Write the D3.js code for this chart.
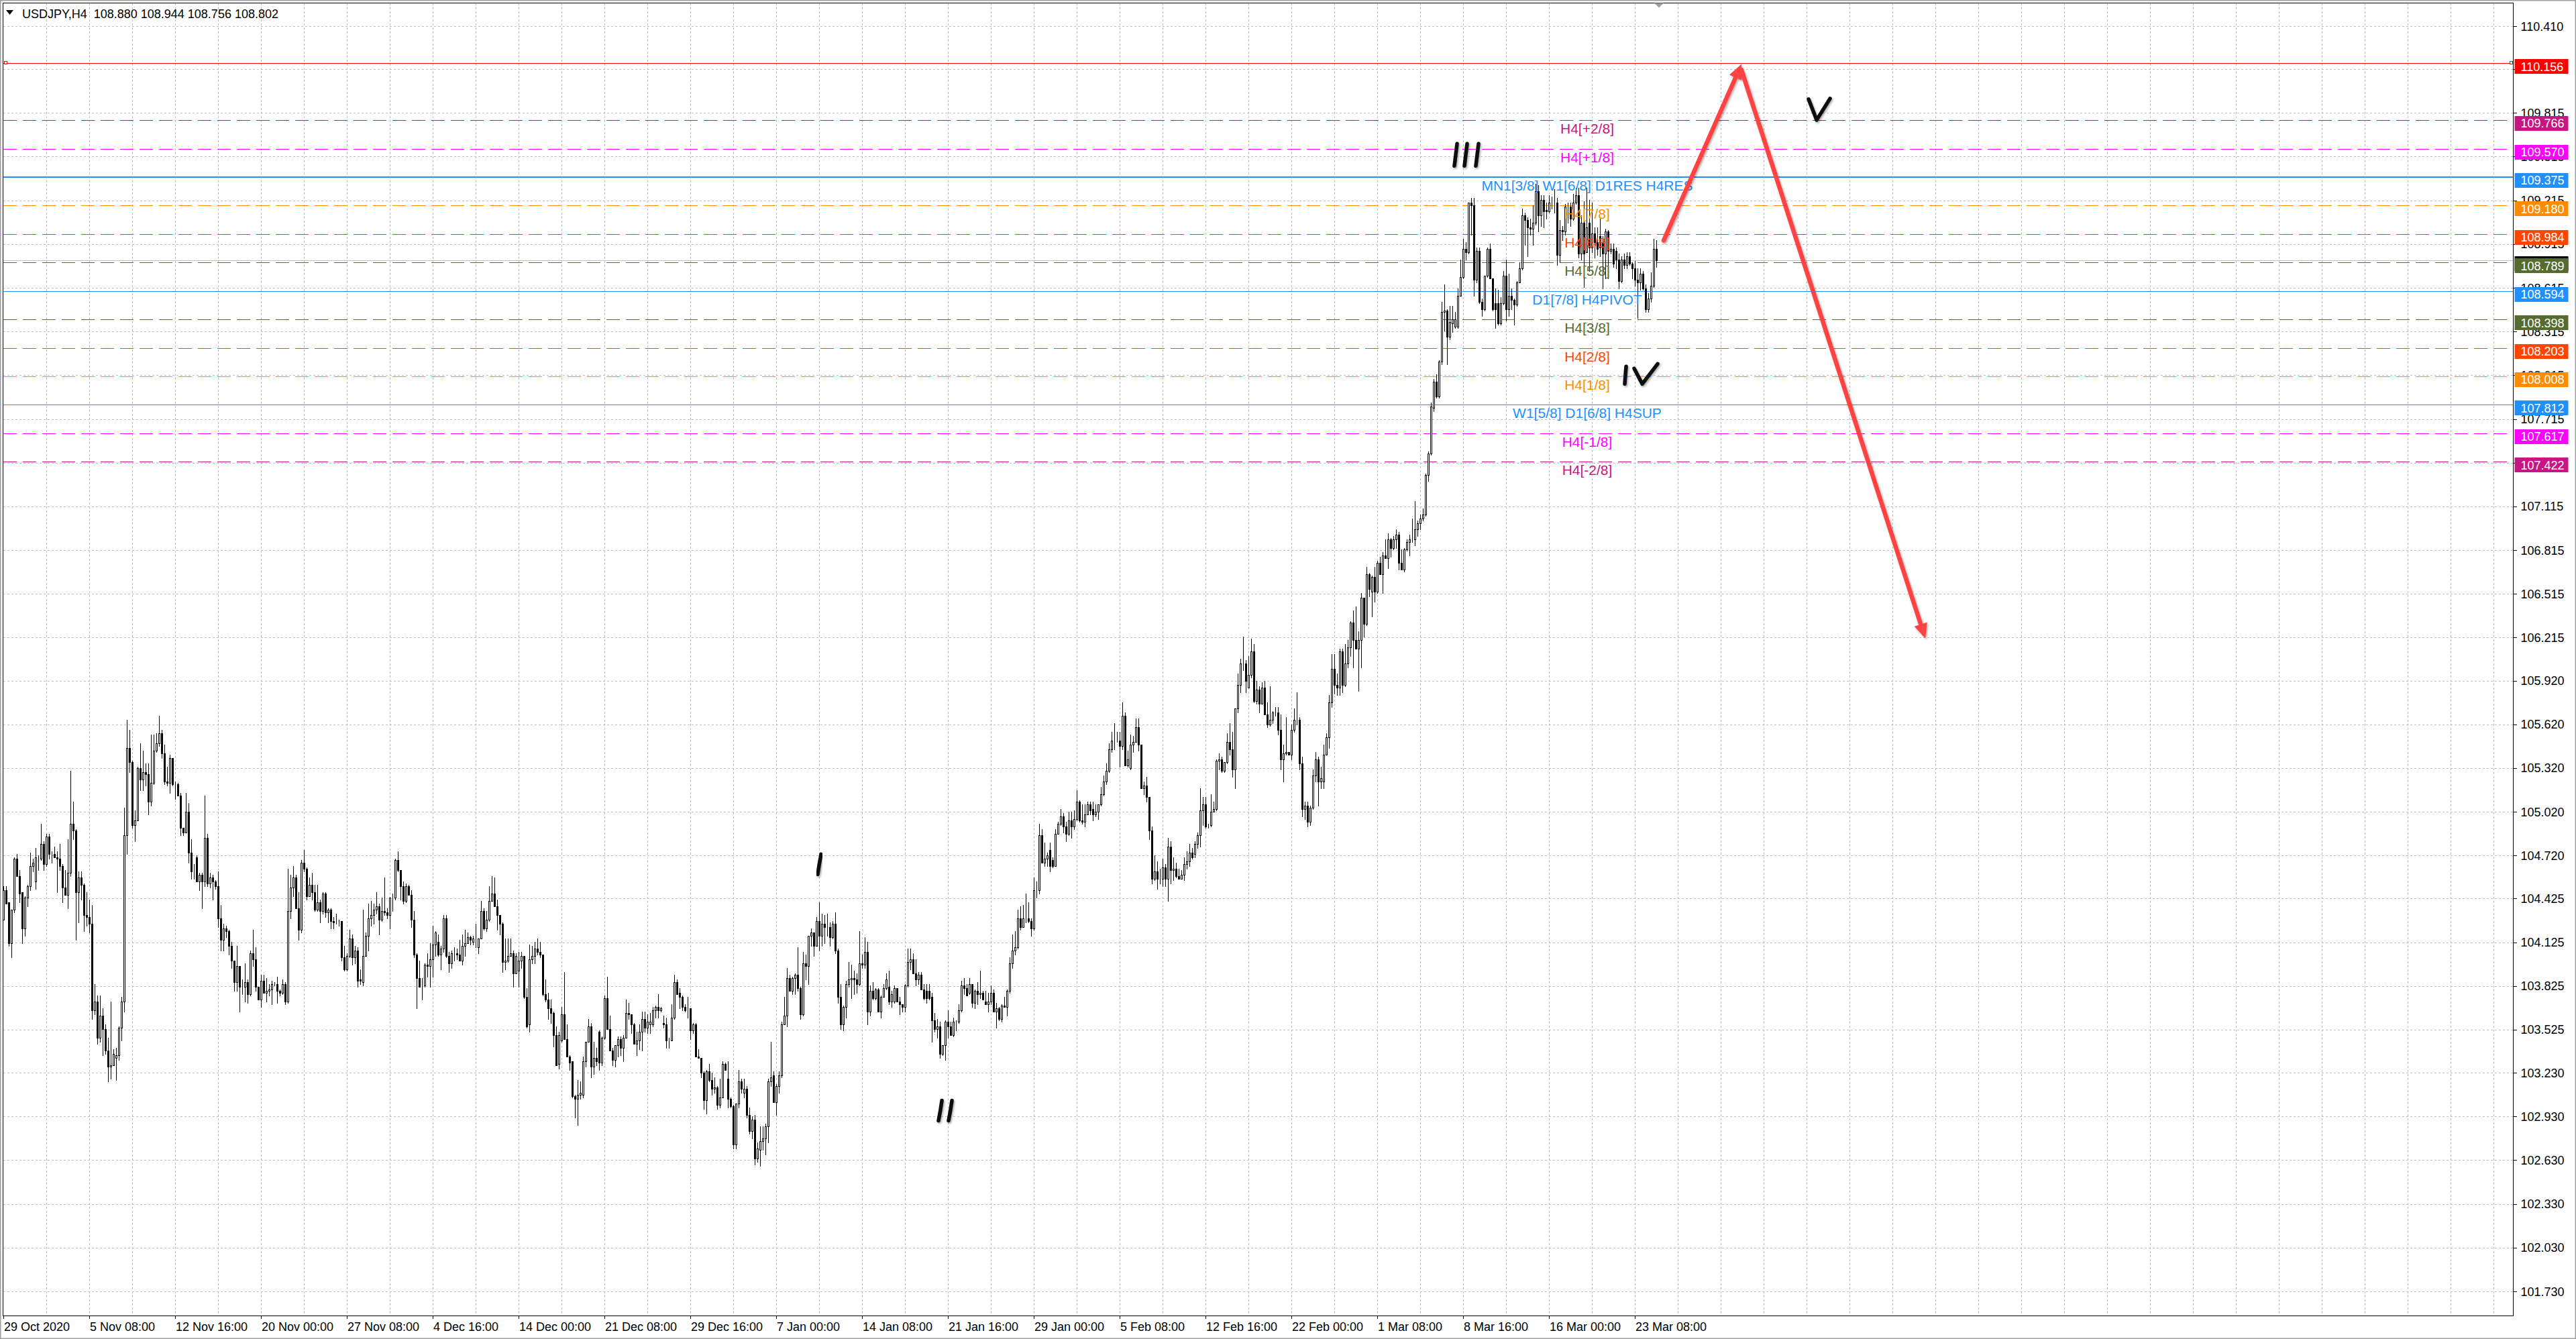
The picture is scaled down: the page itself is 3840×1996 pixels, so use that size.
<!DOCTYPE html>
<html>
<head>
<meta charset="utf-8">
<script src="https://cdn.jsdelivr.net/npm/d3@7"></script>
<style>
body { margin: 0; background: #fff; }
svg { display: block; }
text { font-family: "Liberation Sans", Arial, sans-serif; }
</style>
</head>
<body>
<div id="chart"></div>
<script>
var W = 3840, H = 1996;

var title = "USDJPY,H4  108.880 108.944 108.756 108.802";

// H4 bars, [open, high, low, close], oldest first
var bars = [
[104.28,104.51,104.28,104.48],[104.48,104.51,104.39,104.39],[104.40,104.40,104.10,104.12],[104.12,104.35,104.02,104.35],
[104.35,104.71,104.33,104.70],[104.70,104.73,104.58,104.58],[104.58,104.62,104.40,104.46],[104.47,104.47,104.12,104.22],
[104.22,104.44,104.17,104.43],[104.43,104.52,104.37,104.51],[104.51,104.74,104.48,104.65],[104.65,104.70,104.61,104.67],
[104.54,104.77,104.49,104.71],[104.70,104.72,104.62,104.70],[104.70,104.94,104.69,104.80],[104.80,104.82,104.62,104.66],
[104.66,104.87,104.65,104.85],[104.85,104.87,104.70,104.73],[104.73,104.75,104.67,104.73],[104.73,104.78,104.71,104.71],
[104.71,104.75,104.47,104.70],[104.70,104.80,104.62,104.65],[104.65,104.66,104.40,104.50],[104.50,104.62,104.45,104.45],
[104.45,104.83,104.36,104.60],[104.60,105.30,104.58,104.94],[104.94,105.09,104.83,104.89],[104.89,104.90,104.14,104.47],
[104.47,104.61,104.26,104.57],[104.57,104.61,104.42,104.52],[104.52,104.53,104.20,104.31],[104.31,104.47,104.24,104.30],
[104.30,104.42,104.19,104.25],[104.25,104.38,103.60,103.66],[103.66,103.84,103.63,103.72],[103.72,103.76,103.43,103.47],
[103.47,103.76,103.44,103.62],[103.62,103.67,103.35,103.53],[103.53,103.56,103.36,103.38],[103.38,103.47,103.17,103.27],
[103.27,103.72,103.19,103.28],[103.28,103.39,103.28,103.36],[103.33,103.40,103.18,103.35],[103.35,103.55,103.32,103.54],
[103.54,103.75,103.45,103.72],[103.72,105.05,103.65,104.86],[104.86,105.65,104.73,105.46],[105.46,105.58,105.29,105.36],
[105.36,105.37,104.91,104.93],[104.93,105.03,104.82,104.96],[104.96,105.33,104.96,105.32],[105.32,105.49,105.17,105.24],
[105.24,105.44,105.17,105.29],[105.29,105.35,105.20,105.28],[105.28,105.35,105.00,105.09],[105.09,105.55,105.06,105.22],
[105.22,105.55,105.21,105.44],[105.44,105.56,105.43,105.49],[105.49,105.68,105.47,105.56],[105.56,105.58,105.39,105.42],
[105.42,105.48,105.21,105.23],[105.23,105.33,105.20,105.22],[105.22,105.41,105.15,105.39],[105.39,105.39,105.20,105.21],
[105.21,105.23,105.11,105.21],[105.21,105.22,105.13,105.13],[105.13,105.15,104.86,104.91],[104.91,104.91,104.86,104.88],
[104.88,105.15,104.88,105.02],[105.02,105.08,104.67,104.74],[104.74,104.83,104.56,104.61],[104.61,104.66,104.56,104.61],
[104.71,104.72,104.54,104.54],[104.54,104.60,104.48,104.59],[104.59,104.60,104.36,104.54],[104.54,105.13,104.51,104.84],
[104.84,104.87,104.51,104.53],[104.53,104.60,104.50,104.57],[104.57,104.59,104.42,104.54],[104.54,104.55,104.49,104.51],
[104.51,104.61,104.23,104.29],[104.29,104.38,104.07,104.14],[104.14,104.25,104.07,104.22],[104.22,104.24,104.16,104.20],
[104.20,104.21,104.04,104.10],[104.10,104.13,103.95,104.00],[104.00,104.00,103.79,103.85],[103.85,104.10,103.79,103.96],
[103.96,103.96,103.65,103.82],[103.82,103.87,103.77,103.82],[103.82,103.98,103.72,103.85],[103.85,103.87,103.71,103.77],
[103.77,104.07,103.76,104.05],[104.05,104.21,103.96,104.01],[104.01,104.09,103.79,103.82],[103.82,103.82,103.73,103.73],
[103.73,103.90,103.68,103.86],[103.86,103.90,103.78,103.78],[103.78,103.88,103.72,103.79],[103.79,103.84,103.76,103.80],
[103.80,103.86,103.70,103.84],[103.84,103.85,103.83,103.84],[103.84,103.89,103.71,103.79],[103.79,103.80,103.76,103.78],
[103.78,103.87,103.77,103.84],[103.84,103.85,103.70,103.72],[103.72,104.63,103.71,104.34],[104.34,104.59,104.29,104.50],
[104.50,104.65,104.44,104.57],[104.57,104.59,104.36,104.36],[104.36,104.47,104.14,104.21],[104.21,104.69,104.19,104.67],
[104.67,104.76,104.61,104.63],[104.63,104.64,104.42,104.44],[104.44,104.57,104.44,104.52],[104.52,104.60,104.42,104.47],
[104.47,104.52,104.34,104.35],[104.35,104.52,104.34,104.40],[104.40,104.42,104.26,104.34],[104.34,104.47,104.32,104.46],
[104.46,104.47,104.30,104.33],[104.33,104.36,104.26,104.35],[104.35,104.36,104.22,104.27],[104.27,104.30,104.22,104.26],
[104.26,104.32,104.25,104.26],[104.26,104.28,104.24,104.26],[104.27,104.27,104.00,104.02],[104.02,104.10,103.93,103.94],
[103.94,104.05,103.93,104.03],[104.03,104.21,104.02,104.15],[104.15,104.18,103.97,104.02],[104.02,104.10,103.98,104.07],
[104.07,104.09,103.82,103.86],[103.87,103.94,103.84,103.86],[103.85,104.35,103.83,104.03],[104.03,104.19,104.03,104.17],
[104.17,104.39,104.07,104.29],[104.29,104.41,104.24,104.31],[104.31,104.39,104.25,104.35],[104.35,104.47,104.32,104.37],
[104.37,104.39,104.18,104.28],[104.28,104.43,104.27,104.34],[104.34,104.57,104.31,104.33],[104.33,104.36,104.29,104.31],
[104.31,104.43,104.22,104.43],[104.43,104.46,104.34,104.43],[104.43,104.70,104.42,104.69],[104.69,104.75,104.61,104.62],
[104.62,104.62,104.42,104.51],[104.51,104.54,104.39,104.41],[104.41,104.53,104.40,104.51],[104.51,104.52,104.45,104.45],
[104.45,104.48,104.23,104.28],[104.28,104.34,104.02,104.04],[104.04,104.05,103.67,103.88],[103.88,104.00,103.82,103.82],
[103.83,103.88,103.73,103.83],[103.83,103.98,103.82,103.97],[103.97,104.05,103.89,103.96],[103.96,104.12,103.82,104.01],
[104.01,104.24,103.89,104.11],[104.11,104.20,104.03,104.19],[104.13,104.18,104.03,104.04],[104.04,104.10,103.94,104.08],
[104.08,104.31,104.06,104.29],[104.29,104.31,104.02,104.03],[104.03,104.06,103.92,103.98],[103.98,104.07,103.95,104.05],
[104.05,104.09,104.00,104.05],[104.05,104.08,104.01,104.04],[104.04,104.14,104.00,104.00],[104.00,104.18,103.97,104.10],
[104.10,104.21,104.03,104.12],[104.12,104.19,104.12,104.16],[104.16,104.17,104.11,104.14],[104.13,104.17,104.11,104.15],
[104.15,104.25,104.09,104.15],[104.09,104.15,104.05,104.15],[104.15,104.41,104.15,104.34],[104.34,104.36,104.21,104.22],
[104.22,104.34,104.20,104.28],[104.28,104.51,104.27,104.41],[104.41,104.58,104.41,104.46],[104.46,104.57,104.37,104.37],
[104.37,104.42,104.21,104.31],[104.31,104.31,104.18,104.25],[104.25,104.26,103.92,103.99],[103.99,104.15,103.94,104.00],
[104.00,104.15,103.99,104.03],[104.03,104.15,104.03,104.05],[104.05,104.07,103.82,103.91],[103.91,104.05,103.91,104.03],
[103.93,104.06,103.82,104.00],[104.00,104.06,103.95,104.03],[104.03,104.03,103.74,103.75],[103.75,103.81,103.54,103.55],
[103.56,104.11,103.51,104.01],[104.01,104.10,103.98,104.03],[104.03,104.13,103.98,104.08],[104.08,104.15,104.04,104.06],
[104.06,104.13,104.02,104.04],[104.04,104.04,103.76,103.77],[103.77,103.87,103.72,103.73],[103.73,103.78,103.60,103.67],
[103.67,103.73,103.57,103.64],[103.64,103.65,103.41,103.49],[103.49,103.55,103.28,103.28],[103.29,103.51,103.26,103.49],
[103.45,103.68,103.44,103.63],[103.63,103.92,103.46,103.46],[103.46,103.56,103.34,103.34],[103.34,103.35,103.25,103.30],
[103.31,103.31,103.06,103.07],[103.07,103.08,102.92,103.05],[103.05,103.18,102.87,103.08],[103.08,103.17,103.05,103.09],
[103.08,103.34,103.06,103.31],[103.31,103.44,103.27,103.44],[103.44,103.60,103.44,103.55],[103.55,103.57,103.20,103.27],
[103.27,103.44,103.22,103.33],[103.33,103.40,103.28,103.31],[103.51,103.52,103.25,103.30],[103.30,103.48,103.28,103.47],
[103.47,103.76,103.46,103.74],[103.74,103.89,103.53,103.53],[103.53,103.62,103.38,103.38],[103.38,103.40,103.28,103.32],
[103.32,103.42,103.27,103.42],[103.42,103.48,103.34,103.46],[103.46,103.48,103.35,103.40],[103.40,103.49,103.31,103.47],
[103.47,103.73,103.47,103.64],[103.64,103.71,103.60,103.63],[103.63,103.63,103.50,103.56],[103.56,103.57,103.43,103.43],
[103.43,103.51,103.35,103.45],[103.45,103.56,103.39,103.51],[103.51,103.65,103.38,103.60],[103.60,103.65,103.51,103.54],
[103.54,103.63,103.50,103.58],[103.56,103.64,103.50,103.58],[103.56,103.68,103.55,103.66],[103.66,103.69,103.61,103.68],
[103.68,103.77,103.61,103.66],[103.66,103.68,103.65,103.67],[103.57,103.62,103.54,103.56],[103.56,103.61,103.40,103.45],
[103.45,103.47,103.40,103.45],[103.45,103.70,103.45,103.61],[103.61,103.90,103.60,103.85],[103.85,103.87,103.77,103.77],
[103.78,103.81,103.67,103.75],[103.75,103.76,103.66,103.68],[103.68,103.70,103.65,103.66],[103.66,103.75,103.61,103.66],
[103.67,103.67,103.46,103.52],[103.52,103.57,103.50,103.56],[103.56,103.57,103.34,103.34],[103.34,103.39,103.33,103.33],
[103.33,103.33,103.20,103.23],[103.23,103.24,102.98,103.04],[103.04,103.25,102.95,103.24],[103.24,103.29,103.17,103.18],
[103.18,103.23,103.08,103.12],[103.12,103.20,103.09,103.13],[103.13,103.14,102.98,103.01],[103.01,103.19,102.99,103.06],
[103.06,103.31,103.06,103.29],[103.29,103.30,103.25,103.25],[103.19,103.31,102.99,103.05],[103.05,103.06,102.99,103.00],
[103.00,103.01,102.71,102.74],[102.74,103.02,102.71,103.02],[103.02,103.25,102.99,103.17],[103.17,103.19,103.09,103.12],
[103.09,103.19,103.06,103.12],[103.12,103.14,102.92,102.94],[102.94,102.99,102.81,102.83],[102.83,102.93,102.78,102.91],
[102.91,102.94,102.60,102.64],[102.64,102.75,102.62,102.71],[102.70,102.86,102.59,102.76],[102.76,102.86,102.70,102.78],
[102.78,102.88,102.67,102.86],[102.86,103.19,102.75,103.17],[103.17,103.44,103.14,103.20],[103.21,103.24,103.03,103.03],
[103.03,103.15,102.94,103.14],[103.14,103.24,103.09,103.21],[103.21,103.58,103.20,103.56],[103.56,103.75,103.56,103.62],
[103.62,103.95,103.55,103.88],[103.88,103.90,103.79,103.79],[103.79,103.89,103.77,103.88],[103.88,103.91,103.77,103.90],
[103.90,104.09,103.79,103.81],[103.81,103.82,103.60,103.63],[103.63,104.06,103.62,103.98],[103.98,104.04,103.87,103.96],
[103.96,104.17,103.84,104.17],[104.17,104.22,104.10,104.19],[104.19,104.19,104.03,104.10],[104.10,104.30,104.10,104.27],
[104.27,104.40,104.07,104.17],[104.17,104.32,104.10,104.25],[104.25,104.31,104.12,104.23],[104.23,104.32,104.17,104.23],
[104.23,104.26,104.10,104.16],[104.16,104.27,104.15,104.25],[104.25,104.33,104.05,104.07],[104.07,104.08,103.71,103.75],
[103.75,103.84,103.53,103.56],[103.56,103.69,103.52,103.68],[103.68,103.86,103.61,103.84],[103.84,103.99,103.82,103.87],
[103.87,103.97,103.74,103.88],[103.88,103.93,103.77,103.87],[103.87,103.91,103.78,103.84],[103.84,104.20,103.83,103.98],
[103.98,104.04,103.95,103.97],[103.97,104.16,103.95,104.06],[104.06,104.13,103.56,103.65],[103.65,103.83,103.62,103.79],
[103.79,103.85,103.73,103.74],[103.74,103.81,103.73,103.80],[103.80,103.81,103.65,103.65],[103.65,103.76,103.61,103.75],
[103.75,103.84,103.75,103.81],[103.81,103.91,103.80,103.87],[103.82,103.93,103.70,103.72],[103.72,103.79,103.68,103.77],
[103.72,103.83,103.71,103.81],[103.81,103.81,103.72,103.72],[103.72,103.75,103.63,103.70],[103.70,103.70,103.65,103.68],
[103.68,103.84,103.65,103.83],[103.83,104.08,103.82,103.99],[103.99,104.08,103.94,104.01],[104.01,104.05,103.91,103.91],
[103.91,104.01,103.83,103.87],[103.87,103.92,103.84,103.90],[103.90,103.92,103.80,103.80],[103.80,103.84,103.73,103.74],
[103.79,103.84,103.71,103.74],[103.79,103.84,103.73,103.74],[103.75,103.78,103.44,103.59],[103.59,103.64,103.51,103.53],
[103.53,103.60,103.47,103.55],[103.55,103.58,103.33,103.36],[103.36,103.42,103.35,103.42],[103.42,103.59,103.32,103.58],
[103.58,103.66,103.47,103.55],[103.55,103.58,103.49,103.49],[103.49,103.61,103.48,103.58],[103.58,103.59,103.52,103.58],
[103.58,103.70,103.57,103.66],[103.66,103.86,103.65,103.83],[103.83,103.88,103.77,103.81],[103.81,103.84,103.76,103.76],
[103.78,103.88,103.77,103.84],[103.84,103.84,103.68,103.71],[103.71,103.80,103.67,103.79],[103.79,103.85,103.70,103.77],
[103.77,103.93,103.74,103.78],[103.78,103.79,103.73,103.73],[103.72,103.79,103.70,103.70],[103.70,103.78,103.65,103.72],
[103.72,103.83,103.70,103.78],[103.78,103.80,103.65,103.65],[103.65,103.71,103.54,103.67],[103.67,103.68,103.59,103.60],
[103.60,103.70,103.58,103.69],[103.69,103.75,103.68,103.68],[103.68,103.80,103.62,103.79],[103.79,104.02,103.78,103.98],
[103.98,104.18,103.95,104.07],[104.07,104.20,104.04,104.09],[104.09,104.35,104.08,104.29],[104.29,104.37,104.21,104.23],
[104.23,104.38,104.23,104.29],[104.29,104.46,104.26,104.29],[104.29,104.40,104.26,104.27],[104.27,104.29,104.17,104.22],
[104.22,104.57,104.21,104.48],[104.48,104.54,104.43,104.48],[104.48,104.94,104.46,104.86],[104.86,104.90,104.67,104.67],
[104.67,104.81,104.65,104.70],[104.70,104.74,104.65,104.72],[104.76,104.81,104.61,104.65],[104.69,104.71,104.64,104.65],
[104.65,104.90,104.65,104.87],[104.87,104.95,104.87,104.94],[104.94,105.04,104.93,104.99],[104.99,105.01,104.88,104.92],
[104.92,104.95,104.82,104.87],[104.87,105.02,104.86,104.96],[104.96,105.02,104.84,104.92],[104.92,105.03,104.90,104.97],
[104.97,105.17,104.96,105.09],[105.09,105.10,104.95,104.96],[104.96,105.07,104.94,104.95],[104.95,105.07,104.92,105.00],
[105.00,105.09,105.00,105.07],[105.07,105.09,105.00,105.03],[105.04,105.09,104.96,105.00],[105.00,105.07,104.99,105.02],
[105.02,105.07,104.97,105.07],[105.07,105.19,105.06,105.14],[105.14,105.27,105.13,105.23],[105.23,105.35,105.21,105.30],
[105.30,105.49,105.29,105.45],[105.45,105.57,105.43,105.51],[105.51,105.63,105.45,105.51],[105.51,105.57,105.50,105.51],
[105.51,105.57,105.33,105.47],[105.47,105.77,105.45,105.68],[105.68,105.70,105.34,105.34],[105.34,105.44,105.33,105.38],
[105.32,105.55,105.31,105.48],[105.48,105.54,105.43,105.50],[105.50,105.66,105.50,105.60],[105.60,105.66,105.44,105.48],
[105.48,105.48,105.18,105.18],[105.18,105.23,105.14,105.20],[105.20,105.26,105.09,105.12],[105.12,105.12,104.83,104.89],
[104.89,104.92,104.53,104.56],[104.56,104.72,104.55,104.61],[104.61,104.68,104.49,104.56],[104.56,104.63,104.53,104.56],
[104.56,104.70,104.51,104.64],[104.64,104.66,104.51,104.56],[104.56,104.84,104.41,104.78],[104.78,104.82,104.53,104.62],
[104.62,104.71,104.55,104.63],[104.63,104.67,104.57,104.58],[104.58,104.63,104.56,104.56],[104.56,104.62,104.56,104.59],
[104.59,104.71,104.55,104.66],[104.66,104.75,104.63,104.68],[104.68,104.80,104.65,104.74],[104.74,104.77,104.70,104.71],
[104.73,104.82,104.71,104.80],[104.80,104.88,104.77,104.86],[104.86,105.18,104.78,105.03],[105.03,105.12,104.93,105.07],
[105.07,105.12,104.91,104.92],[104.92,104.94,104.91,104.92],[104.93,105.14,104.92,105.02],[105.02,105.09,105.02,105.04],
[105.04,105.38,105.03,105.37],[105.37,105.42,105.31,105.38],[105.38,105.40,105.29,105.30],[105.30,105.36,105.29,105.36],
[105.36,105.56,105.35,105.50],[105.50,105.63,105.41,105.45],[105.45,105.57,105.26,105.31],[105.31,105.73,105.18,105.73],
[105.73,105.97,105.70,105.89],[105.89,106.07,105.84,106.04],[106.04,106.22,105.99,106.04],[106.04,106.06,105.84,105.92],
[105.87,106.09,105.87,105.96],[105.96,106.21,105.94,106.12],[106.12,106.17,105.77,105.78],[105.78,105.92,105.76,105.86],
[105.86,105.88,105.70,105.76],[105.76,105.91,105.76,105.87],[105.87,105.92,105.69,105.69],[105.69,105.77,105.60,105.62],
[105.62,105.88,105.61,105.65],[105.65,105.71,105.63,105.70],[105.70,105.74,105.68,105.70],[105.70,105.74,105.55,105.58],
[105.58,105.69,105.31,105.38],[105.38,105.48,105.23,105.42],[105.42,105.67,105.41,105.43],[105.43,105.43,105.41,105.41],
[105.41,105.62,105.38,105.58],[105.58,105.73,105.57,105.65],[105.65,105.84,105.62,105.65],[105.65,105.67,105.31,105.35],
[105.35,105.40,104.99,105.04],[105.04,105.09,104.97,105.06],[105.06,105.09,104.92,104.95],[104.95,105.06,104.93,105.05],
[105.05,105.31,105.04,105.27],[105.27,105.43,105.23,105.38],[105.38,105.40,105.06,105.23],[105.23,105.33,105.18,105.25],
[105.23,105.48,105.18,105.41],[105.41,105.56,105.41,105.53],[105.53,105.82,105.46,105.77],[105.77,106.10,105.74,106.00],
[106.00,106.10,105.83,105.89],[105.89,105.97,105.82,105.87],[105.87,106.14,105.82,106.12],[106.12,106.14,105.84,105.89],
[105.89,106.17,105.88,106.04],[106.04,106.20,106.01,106.15],[106.15,106.33,106.09,106.32],[106.32,106.40,106.01,106.20],
[106.20,106.43,106.14,106.14],[106.14,106.26,105.85,106.20],[106.20,106.52,106.01,106.49],[106.49,106.49,106.22,106.31],
[106.31,106.70,106.30,106.65],[106.65,106.66,106.50,106.55],[106.53,106.64,106.36,106.63],[106.63,106.70,106.46,106.53],
[106.53,106.74,106.52,106.73],[106.73,106.77,106.65,106.65],[106.65,106.80,106.52,106.78],[106.78,106.89,106.76,106.76],
[106.76,106.93,106.69,106.89],[106.89,106.90,106.77,106.83],[106.83,106.91,106.82,106.89],[106.89,106.96,106.83,106.92],
[106.92,106.94,106.68,106.73],[106.73,106.82,106.68,106.68],[106.68,106.83,106.67,106.82],[106.82,106.89,106.81,106.87],
[106.87,106.92,106.78,106.89],[106.89,107.03,106.87,106.89],[106.89,107.15,106.85,106.96],[106.96,107.02,106.91,107.00],
[107.00,107.06,106.96,107.03],[107.03,107.10,107.02,107.06],[107.06,107.34,107.05,107.33],[107.33,107.49,107.29,107.48],
[107.48,107.83,107.47,107.80],[107.79,107.99,107.77,107.97],[107.97,108.02,107.86,107.87],[107.87,108.12,107.86,108.11],
[108.11,108.52,108.09,108.45],[108.45,108.64,108.32,108.46],[108.46,108.47,108.09,108.28],[108.28,108.49,108.26,108.38],
[108.37,108.49,108.31,108.40],[108.35,108.45,108.34,108.40],[108.35,108.61,108.34,108.56],[108.56,108.81,108.56,108.69],
[108.69,108.95,108.68,108.88],[108.88,108.93,108.81,108.86],[108.86,109.20,108.85,109.20],[109.20,109.23,108.98,109.18],
[109.18,109.23,108.56,108.67],[108.67,108.89,108.65,108.87],[108.87,108.89,108.51,108.52],[108.52,108.54,108.42,108.47],
[108.47,108.70,108.46,108.70],[108.70,108.89,108.69,108.88],[108.88,108.92,108.68,108.68],[108.68,108.68,108.46,108.47],
[108.51,108.61,108.34,108.47],[108.51,108.60,108.36,108.37],[108.37,108.55,108.36,108.51],[108.51,108.73,108.50,108.70],
[108.70,108.81,108.39,108.47],[108.47,108.71,108.42,108.56],[108.56,108.61,108.47,108.53],[108.53,108.54,108.36,108.50],
[108.50,108.66,108.49,108.65],[108.65,108.79,108.65,108.75],[108.75,109.16,108.74,109.11],[109.11,109.13,108.91,109.08],
[109.08,109.10,108.83,109.03],[109.03,109.09,108.98,109.02],[109.02,109.18,108.91,109.06],[109.06,109.33,109.05,109.28],
[109.28,109.32,109.00,109.11],[109.11,109.25,109.04,109.22],[109.22,109.25,109.03,109.14],[109.15,109.20,109.09,109.14],
[109.14,109.25,109.13,109.20],[109.20,109.24,109.16,109.20],[109.20,109.29,109.13,109.20],[109.20,109.23,108.77,108.84],
[108.84,109.08,108.79,109.01],[109.01,109.04,108.94,109.00],[109.00,109.19,108.98,109.17],[109.17,109.20,109.06,109.17],
[109.17,109.20,109.04,109.09],[109.09,109.26,109.08,109.20],[109.20,109.30,109.19,109.25],[109.25,109.30,108.82,108.85],
[108.85,109.11,108.81,109.06],[109.06,109.21,108.62,108.85],[108.86,109.30,108.86,109.03],[109.06,109.22,108.73,108.89],
[108.89,109.20,108.86,108.99],[108.99,109.03,108.82,108.93],[108.93,109.03,108.84,108.88],[108.97,109.09,108.83,108.89],
[108.93,108.97,108.61,108.85],[108.85,109.02,108.68,109.00],[109.00,109.01,108.68,108.87],[108.87,108.92,108.85,108.88],
[108.88,108.92,108.76,108.78],[108.87,108.89,108.75,108.81],[108.81,108.85,108.61,108.66],[108.66,108.83,108.65,108.81],
[108.81,108.85,108.75,108.77],[108.77,108.86,108.75,108.83],[108.83,108.86,108.77,108.78],[108.78,108.79,108.68,108.75],
[108.75,108.80,108.63,108.67],[108.67,108.75,108.41,108.65],[108.65,108.75,108.60,108.71],[108.71,108.73,108.60,108.61],
[108.61,108.64,108.45,108.47],[108.47,108.58,108.45,108.54],[108.54,108.72,108.52,108.63],[108.63,108.95,108.62,108.88],
[108.880,108.944,108.756,108.802]
];

var priceTicks = [110.410, 110.115, 109.815, 109.515, 109.215, 108.915, 108.615, 108.315, 108.015, 107.715,
  107.415, 107.115, 106.815, 106.515, 106.215, 105.920, 105.620, 105.320, 105.020, 104.720,
  104.425, 104.125, 103.825, 103.525, 103.230, 102.930, 102.630, 102.330, 102.030, 101.730];

var timeLabels = ["29 Oct 2020", "5 Nov 08:00", "12 Nov 16:00", "20 Nov 00:00", "27 Nov 08:00", "4 Dec 16:00",
  "14 Dec 00:00", "21 Dec 08:00", "29 Dec 16:00", "7 Jan 00:00", "14 Jan 08:00", "21 Jan 16:00",
  "29 Jan 00:00", "5 Feb 08:00", "12 Feb 16:00", "22 Feb 00:00", "1 Mar 08:00", "8 Mar 16:00",
  "16 Mar 00:00", "23 Mar 08:00"];
var barsPerLabel = 32;
var barsPerGrid = 16;

// Murrey math style levels
var levelPrices = [110.156, 109.766, 109.570, 109.375, 109.180, 108.984, 108.789, 108.594, 108.398, 108.203, 108.008, 107.812, 107.617, 107.422];
var levelNames = ["", "H4[+2/8]", "H4[+1/8]", "MN1[3/8] W1[6/8] D1RES H4RES", "H4[7/8]", "H4[6/8]", "H4[5/8]",
  "D1[7/8] H4PIVOT", "H4[3/8]", "H4[2/8]", "H4[1/8]", "W1[5/8] D1[6/8] H4SUP", "H4[-1/8]", "H4[-2/8]"];
var levelColors = ["#ff0000", "#c71585", "#ff00ff", "#1e90ff", "#ff8c00", "#ff4500", "#556b2f",
  "#1e90ff", "#556b2f", "#ff4500", "#ff8c00", "#1e90ff", "#ff00ff", "#c71585"];
var levelDashed = [false, true, true, false, true, true, true, false, true, true, true, false, true, true];
var levelWidths = [1, 1, 1, 2, 1, 1, 1, 1, 1, 1, 1, 1, 1, 1];
var levelLabelBar = 590.25;

var lastPrice = 108.802;

// hand drawn wave count, anchored at bar index / price
var waveNames = ["I", "II", "III", "IV", "V"];
var waveBars = [304, 350.75, 545.25, 610.75, 676.75];
var wavePrices = [104.66, 102.97, 109.53, 108.02, 109.84];

// red projection arrow
var arrowBars = [618.75, 647.75, 716.25];
var arrowPrices = [108.94, 110.15, 106.21];

var plotL = 4.5, plotR = 3746.5, plotT = 4.5, plotB = 1961.5;

var x = d3.scaleLinear().domain([0, barsPerLabel]).range([5, 133]);
var y = d3.scaleLinear().domain([101.73, 110.41]).range([1925, 39]);
var lastBar = x.invert(plotR);

var svg = d3.select("#chart").append("svg")
    .attr("width", W)
    .attr("height", H);

var defs = svg.append("defs");
defs.append("filter").attr("id", "pen").attr("x", "-30%").attr("y", "-30%").attr("width", "160%").attr("height", "160%")
    .append("feDropShadow").attr("dx", 1.5).attr("dy", 2).attr("stdDeviation", 1.6)
    .attr("flood-color", "#000").attr("flood-opacity", 0.35);
defs.append("clipPath").attr("id", "plot")
    .append("rect").attr("x", plotL).attr("y", plotT).attr("width", plotR - plotL).attr("height", plotB - plotT);

svg.append("rect").attr("width", W).attr("height", H).attr("fill", "#fff");

var plot = svg.append("g").attr("clip-path", "url(#plot)");

//Grid
var crisp = function(v) { return Math.round(v) + 0.5; };
var gridBars = d3.range(barsPerGrid, lastBar, barsPerGrid);
plot.selectAll(".vgrid")
    .data(gridBars)
    .enter()
    .append("line")
    .attr("class", "vgrid")
    .attr("x1", function(d) { return crisp(x(d)); })
    .attr("x2", function(d) { return crisp(x(d)); })
    .attr("y1", plotT)
    .attr("y2", plotB)
    .attr("stroke", "#c0c0c0")
    .attr("stroke-dasharray", "3,3")
    .attr("shape-rendering", "crispEdges");

plot.selectAll(".hgrid")
    .data(priceTicks)
    .enter()
    .append("line")
    .attr("class", "hgrid")
    .attr("x1", plotL)
    .attr("x2", plotR)
    .attr("y1", function(d) { return crisp(y(d)); })
    .attr("y2", function(d) { return crisp(y(d)); })
    .attr("stroke", "#c0c0c0")
    .attr("stroke-dasharray", "3,3")
    .attr("shape-rendering", "crispEdges");

//Levels
plot.selectAll(".level")
    .data(levelPrices)
    .enter()
    .append("line")
    .attr("class", "level")
    .attr("x1", plotL)
    .attr("x2", plotR)
    .attr("y1", function(d, i) { return levelWidths[i] == 2 ? Math.round(y(d)) : crisp(y(d)); })
    .attr("y2", function(d, i) { return levelWidths[i] == 2 ? Math.round(y(d)) : crisp(y(d)); })
    .attr("stroke", function(d, i) { return levelColors[i]; })
    .attr("stroke-width", function(d, i) { return levelWidths[i]; })
    .attr("stroke-dasharray", function(d, i) { return levelDashed[i] ? "20,9" : null; })
    .attr("shape-rendering", "crispEdges");

plot.append("line")
    .attr("x1", plotL).attr("x2", plotR)
    .attr("y1", crisp(y(lastPrice))).attr("y2", crisp(y(lastPrice)))
    .attr("stroke", "#c0c0c0")
    .attr("shape-rendering", "crispEdges");

//Candles
var candles = plot.selectAll(".bar")
    .data(bars)
    .enter()
    .append("g")
    .attr("class", "bar");

candles.append("line")
    .attr("x1", function(d, i) { return Math.round(x(i)) + 0.5; })
    .attr("x2", function(d, i) { return Math.round(x(i)) + 0.5; })
    .attr("y1", function(d) { return Math.round(y(d[1])); })
    .attr("y2", function(d) { return Math.round(y(d[2])) + 1; })
    .attr("stroke", "#000")
    .attr("shape-rendering", "crispEdges");

candles.append("rect")
    .attr("x", function(d, i) { return Math.round(x(i)) - 0.5; })
    .attr("y", function(d) { return Math.round(y(Math.max(d[0], d[3]))) + 0.5; })
    .attr("width", 2)
    .attr("height", function(d) { return Math.max(0, Math.round(y(Math.min(d[0], d[3]))) - Math.round(y(Math.max(d[0], d[3])))); })
    .attr("fill", function(d) { return d[3] < d[0] ? "#000" : "#fff"; })
    .attr("stroke", "#000")
    .attr("shape-rendering", "crispEdges");

//Level captions
svg.selectAll(".levelName")
    .data(levelPrices)
    .enter()
    .append("text")
    .attr("class", "levelName")
    .attr("x", x(levelLabelBar))
    .attr("y", function(d) { return y(d) + 20; })
    .attr("text-anchor", "middle")
    .attr("font-size", 21)
    .attr("fill", function(d, i) { return levelColors[i]; })
    .text(function(d, i) { return levelNames[i]; });

// small anchor squares of the selected red line
[plotL + 3, plotR - 4].forEach(function(px) {
    svg.append("rect")
        .attr("x", Math.round(px - 2) + 0.5).attr("y", Math.round(y(levelPrices[0])) - 2.5)
        .attr("width", 4).attr("height", 4)
        .attr("fill", "#fff").attr("stroke", "#ff0000")
        .attr("shape-rendering", "crispEdges");
});

//Wave count glyphs
var glyphs = {
    "I": "M3,-15 Q0,0 -2,15",
    "II": "M-4,-15 Q-6,0 -9,15 M11,-15 Q9,0 6,15",
    "III": "M-14,-16 Q-16,0 -18,17 M1,-16 Q-1,0 -3,17 M18,-16 Q16,0 14,17",
    "IV": "M-24,-12 Q-25,0 -26,14 M-12,-9 L0,14 L23,-16",
    "V": "M-16,-15 L-4,16 L16,-16"
};
svg.selectAll(".wave")
    .data(waveNames)
    .enter()
    .append("path")
    .attr("class", "wave")
    .attr("transform", function(d, i) { return "translate(" + x(waveBars[i]) + "," + y(wavePrices[i]) + ")"; })
    .attr("d", function(d) { return glyphs[d]; })
    .attr("fill", "none")
    .attr("stroke", "#0a0a0a")
    .attr("stroke-width", 5.5)
    .attr("stroke-linecap", "round")
    .attr("stroke-linejoin", "round")
    .attr("filter", "url(#pen)");

//Arrow
var arrowG = svg.append("g").attr("filter", "url(#pen)");
function drawArrow(b0, p0, b1, p1) {
    var x0 = x(b0), y0 = y(p0), x1 = x(b1), y1 = y(p1);
    var a = Math.atan2(y1 - y0, x1 - x0);
    var len = 22, half = 10;
    var bx = x1 - len * Math.cos(a), by = y1 - len * Math.sin(a);
    arrowG.append("line")
        .attr("x1", x0).attr("y1", y0)
        .attr("x2", bx + 4 * Math.cos(a)).attr("y2", by + 4 * Math.sin(a))
        .attr("stroke", "#ff4343")
        .attr("stroke-width", 6.5)
        .attr("stroke-linecap", "round");
    arrowG.append("path")
        .attr("d", "M" + x1 + "," + y1 +
            "L" + (bx + half * Math.sin(a)) + "," + (by - half * Math.cos(a)) +
            "L" + (bx - half * Math.sin(a)) + "," + (by + half * Math.cos(a)) + "Z")
        .attr("fill", "#ff4343");
}
drawArrow(arrowBars[0], arrowPrices[0], arrowBars[1], arrowPrices[1]);
drawArrow(arrowBars[1], arrowPrices[1] - 0.04, arrowBars[2], arrowPrices[2]);

//Frame
svg.append("rect")
    .attr("x", plotL).attr("y", plotT)
    .attr("width", plotR - plotL).attr("height", plotB - plotT)
    .attr("fill", "none").attr("stroke", "#000")
    .attr("shape-rendering", "crispEdges");
svg.append("rect")
    .attr("x", 0.5).attr("y", 0.5).attr("width", W - 1).attr("height", H - 1)
    .attr("fill", "none").attr("stroke", "#a0a0a0").attr("stroke-width", 2);

// chart shift marker
svg.append("path")
    .attr("d", "M" + (x(bars.length) - 7) + "," + plotT + "l14,0l-7,7z")
    .attr("fill", "#a0a0a0");

//Price axis
svg.selectAll(".ptick")
    .data(priceTicks)
    .enter()
    .append("line")
    .attr("class", "ptick")
    .attr("x1", plotR).attr("x2", plotR + 5)
    .attr("y1", function(d) { return crisp(y(d)); })
    .attr("y2", function(d) { return crisp(y(d)); })
    .attr("stroke", "#000")
    .attr("shape-rendering", "crispEdges");

svg.selectAll(".plabel")
    .data(priceTicks)
    .enter()
    .append("text")
    .attr("class", "plabel")
    .attr("x", plotR + 11)
    .attr("y", function(d) { return y(d) + 6.5; })
    .attr("font-size", 18)
    .attr("fill", "#000")
    .text(function(d) { return d.toFixed(3); });

var boxPrices = [lastPrice].concat(levelPrices);
var boxColors = ["#000"].concat(levelColors);
var boxes = svg.selectAll(".pbox")
    .data(boxPrices)
    .enter()
    .append("g")
    .attr("class", "pbox");
boxes.append("rect")
    .attr("x", plotR + 2)
    .attr("y", function(d) { return Math.round(y(d)) - 6; })
    .attr("width", 80)
    .attr("height", 22)
    .attr("fill", function(d, i) { return boxColors[i]; });
boxes.append("text")
    .attr("x", plotR + 11)
    .attr("y", function(d) { return y(d) + 11.5; })
    .attr("font-size", 18)
    .attr("fill", "#fff")
    .text(function(d) { return d.toFixed(3); });

//Time axis
svg.selectAll(".ttick")
    .data(timeLabels)
    .enter()
    .append("line")
    .attr("class", "ttick")
    .attr("x1", function(d, i) { return crisp(x(i * barsPerLabel)); })
    .attr("x2", function(d, i) { return crisp(x(i * barsPerLabel)); })
    .attr("y1", plotB)
    .attr("y2", plotB + 4)
    .attr("stroke", "#000")
    .attr("shape-rendering", "crispEdges");

svg.selectAll(".tlabel")
    .data(timeLabels)
    .enter()
    .append("text")
    .attr("class", "tlabel")
    .attr("x", function(d, i) { return x(i * barsPerLabel) + 1; })
    .attr("y", plotB + 22)
    .attr("font-size", 18)
    .attr("fill", "#000")
    .text(function(d) { return d; });

//Title
svg.append("path")
    .attr("d", "M9,15 L20,15 L14.5,22 Z")
    .attr("fill", "#000");
svg.append("text")
    .attr("x", 33)
    .attr("y", 27)
    .attr("font-size", 18)
    .attr("fill", "#000")
    .style("white-space", "pre")
    .text(title);
</script>
</body>
</html>
